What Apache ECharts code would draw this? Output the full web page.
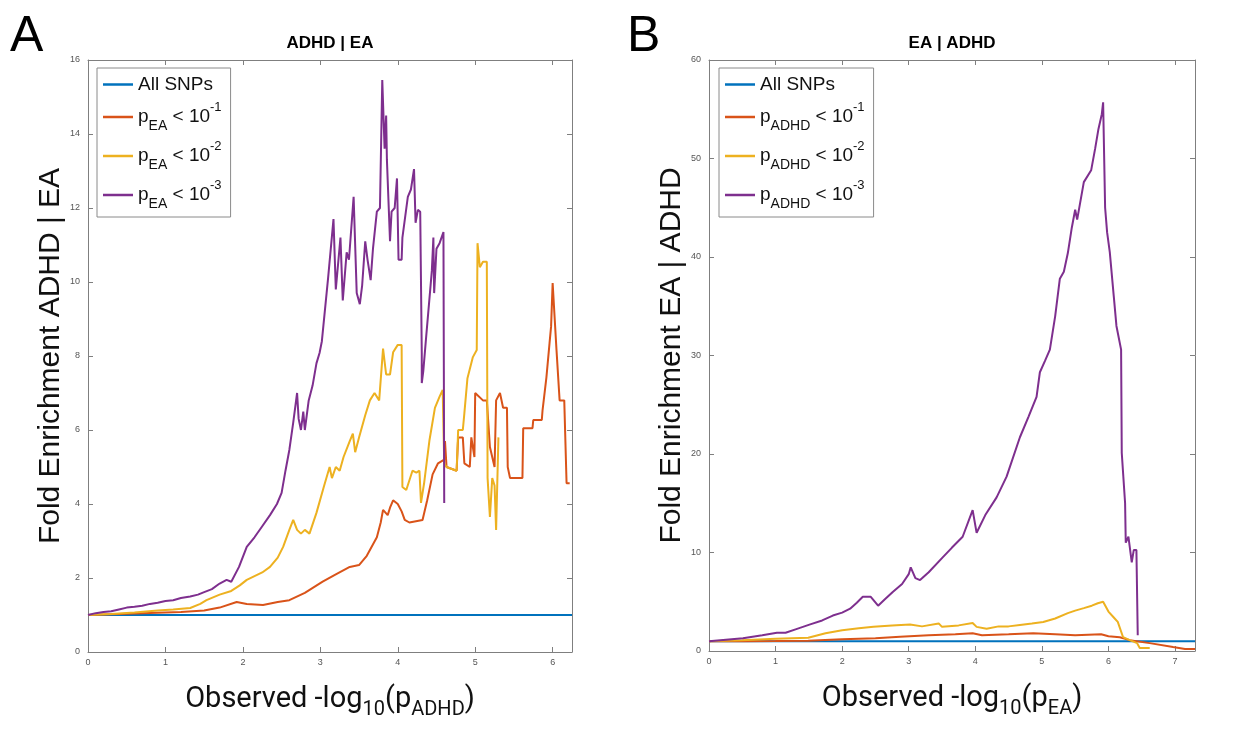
<!DOCTYPE html>
<html>
<head>
<meta charset="utf-8">
<script src="https://cdn.jsdelivr.net/npm/echarts@6/dist/echarts.min.js"></script>
<style>
  html, body { margin: 0; padding: 0; background: #ffffff; }
  #chart { width: 1250px; height: 736px; }
</style>
</head>
<body>
<div id="chart"></div>
<script>
// ---------- Panel A: fold enrichment of ADHD conditional on EA ----------
const adhdAllSnps = [[0, 1], [6.25, 1]];
const adhdEa1 = [[0,1],[0.3,1.02],[0.6,1.04],[0.9,1.06],[1.2,1.08],[1.5,1.12],[1.7,1.2],[1.92,1.35],[2.05,1.3],[2.26,1.27],[2.45,1.35],[2.6,1.4],[2.8,1.6],[3.03,1.9],[3.2,2.1],[3.38,2.3],[3.5,2.35],[3.6,2.6],[3.73,3.1],[3.78,3.5],[3.81,3.84],[3.87,3.7],[3.9,3.9],[3.94,4.1],[4.0,4.0],[4.05,3.8],[4.09,3.57],[4.15,3.5],[4.32,3.57],[4.38,4.1],[4.45,4.8],[4.52,5.1],[4.6,5.2],[4.61,5.7],[4.63,5.0],[4.76,4.9],[4.78,5.8],[4.84,5.8],[4.86,5.1],[4.93,5.0],[4.95,5.8],[4.99,5.27],[5.0,7.0],[5.1,6.8],[5.15,6.8],[5.19,5.54],[5.25,5.0],[5.27,6.8],[5.32,7.0],[5.36,6.6],[5.41,6.6],[5.42,5.0],[5.45,4.7],[5.61,4.7],[5.62,6.05],[5.74,6.05],[5.75,6.27],[5.86,6.27],[5.87,6.54],[5.92,7.43],[5.96,8.35],[5.98,8.8],[6.0,9.97],[6.05,8.16],[6.09,6.8],[6.15,6.8],[6.18,4.56],[6.22,4.56]];
const adhdEa2 = [[0,1],[0.3,1.03],[0.6,1.07],[0.9,1.12],[1.1,1.15],[1.32,1.19],[1.45,1.3],[1.53,1.4],[1.7,1.55],[1.85,1.65],[1.96,1.8],[2.05,1.95],[2.15,2.05],[2.25,2.15],[2.35,2.3],[2.45,2.55],[2.52,2.84],[2.6,3.3],[2.65,3.57],[2.7,3.3],[2.75,3.2],[2.8,3.3],[2.86,3.2],[2.95,3.76],[3.05,4.5],[3.12,5.0],[3.15,4.7],[3.2,5.0],[3.25,4.9],[3.3,5.27],[3.38,5.7],[3.42,5.9],[3.45,5.4],[3.5,5.8],[3.58,6.4],[3.64,6.8],[3.7,7.0],[3.76,6.8],[3.81,8.2],[3.85,7.5],[3.9,7.5],[3.94,8.1],[4.0,8.3],[4.05,8.3],[4.06,4.46],[4.11,4.38],[4.19,4.9],[4.24,4.85],[4.28,4.9],[4.3,4.03],[4.34,4.56],[4.41,5.73],[4.48,6.6],[4.54,6.9],[4.58,7.08],[4.6,5.1],[4.63,5.0],[4.76,4.9],[4.78,6.0],[4.84,6.0],[4.86,6.45],[4.9,7.4],[4.97,7.97],[5.02,8.16],[5.03,11.05],[5.06,10.4],[5.1,10.55],[5.15,10.55],[5.16,4.7],[5.19,3.65],[5.22,4.7],[5.25,4.5],[5.27,3.3],[5.3,5.8]];
const adhdEa3 = [[0,1],[0.1,1.05],[0.2,1.08],[0.3,1.1],[0.4,1.15],[0.5,1.2],[0.6,1.22],[0.7,1.25],[0.8,1.3],[0.9,1.33],[1.0,1.38],[1.1,1.4],[1.2,1.46],[1.32,1.5],[1.42,1.55],[1.5,1.62],[1.6,1.7],[1.7,1.85],[1.79,1.95],[1.85,1.9],[1.95,2.3],[2.05,2.84],[2.15,3.1],[2.25,3.4],[2.35,3.7],[2.44,4.0],[2.5,4.3],[2.55,4.9],[2.6,5.46],[2.65,6.2],[2.7,7.0],[2.72,6.3],[2.75,6.0],[2.78,6.5],[2.8,6.0],[2.85,6.8],[2.9,7.2],[2.95,7.8],[2.99,8.08],[3.02,8.4],[3.1,10.1],[3.17,11.7],[3.2,9.8],[3.26,11.2],[3.29,9.5],[3.34,10.8],[3.37,10.6],[3.43,12.3],[3.47,9.7],[3.51,9.4],[3.54,9.9],[3.58,11.1],[3.61,10.6],[3.65,10.05],[3.68,10.9],[3.73,11.9],[3.77,12.0],[3.8,15.46],[3.83,13.6],[3.85,14.5],[3.86,13.3],[3.9,11.1],[3.92,11.9],[3.96,12.0],[3.99,12.8],[4.01,10.6],[4.05,10.6],[4.06,11.2],[4.13,12.3],[4.17,12.5],[4.21,13.05],[4.23,11.6],[4.26,11.95],[4.29,11.9],[4.31,8.08],[4.31,7.27],[4.33,7.6],[4.37,8.6],[4.44,10.3],[4.46,11.2],[4.47,9.7],[4.5,10.9],[4.54,11.05],[4.59,11.35],[4.6,4.03]];

// ---------- Panel B: fold enrichment of EA conditional on ADHD ----------
const eaAllSnps = [[0, 1], [7.3, 1]];
const eaAdhd1 = [[0,1],[0.5,1.0],[1.0,1.02],[1.49,1.05],[2.0,1.2],[2.5,1.3],[2.87,1.45],[3.3,1.6],[3.7,1.7],[3.96,1.8],[4.1,1.6],[4.5,1.7],[4.87,1.8],[5.2,1.7],[5.5,1.6],[5.89,1.7],[6.0,1.5],[6.17,1.4],[6.32,1.1],[6.62,0.8],[6.97,0.4],[7.15,0.2],[7.3,0.2]];
const eaAdhd2 = [[0,1],[0.5,1.1],[1.0,1.25],[1.49,1.35],[1.5,1.5],[1.75,1.8],[2.0,2.1],[2.25,2.3],[2.47,2.45],[2.75,2.6],[3.02,2.7],[3.2,2.5],[3.45,2.8],[3.5,2.45],[3.75,2.6],[3.96,2.85],[4.02,2.45],[4.17,2.25],[4.35,2.5],[4.5,2.5],[4.67,2.65],[4.85,2.8],[5.02,2.95],[5.2,3.3],[5.39,3.85],[5.5,4.1],[5.63,4.35],[5.75,4.6],[5.84,4.85],[5.92,5.0],[6.0,4.0],[6.08,3.4],[6.14,2.95],[6.22,1.4],[6.32,1.1],[6.43,0.8],[6.47,0.3],[6.62,0.3]];
const eaAdhd3 = [[0,1.0],[0.51,1.3],[0.8,1.6],[1.02,1.85],[1.15,1.85],[1.3,2.2],[1.52,2.7],[1.7,3.1],[1.86,3.6],[2.0,3.9],[2.12,4.3],[2.22,4.9],[2.31,5.5],[2.43,5.5],[2.54,4.6],[2.65,5.3],[2.76,6.0],[2.9,6.8],[3.0,7.8],[3.03,8.5],[3.1,7.4],[3.17,7.2],[3.3,8.0],[3.51,9.5],[3.65,10.5],[3.81,11.6],[3.96,14.3],[4.02,12.0],[4.15,13.8],[4.32,15.6],[4.47,17.7],[4.67,21.7],[4.8,23.8],[4.92,25.8],[4.97,28.3],[5.05,29.5],[5.12,30.6],[5.2,34],[5.27,37.8],[5.33,38.5],[5.39,40.4],[5.45,43],[5.5,44.8],[5.53,43.8],[5.63,47.6],[5.74,48.8],[5.8,51],[5.85,53],[5.9,54.5],[5.92,55.7],[5.95,45],[5.98,42.5],[6.02,40.5],[6.08,36],[6.12,33],[6.19,30.6],[6.2,20.1],[6.25,15.0],[6.26,11.0],[6.3,11.6],[6.35,9.0],[6.38,10.25],[6.42,10.25],[6.44,1.6]];

// Axis ranges
const adhdXMax = 6.25, adhdYMax = 16, adhdYStep = 2;
const eaXMax = 7.3, eaYMax = 60, eaYStep = 10;

// Legend entries: series name -> rich label
const adhdNames = ['All SNPs', 'pEA < 10^-1', 'pEA < 10^-2', 'pEA < 10^-3'];
const adhdLabels = ['{t|All SNPs}', '{t|p}{sub|EA}{t| < 10}{sup|-1}', '{t|p}{sub|EA}{t| < 10}{sup|-2}', '{t|p}{sub|EA}{t| < 10}{sup|-3}'];
const eaNames = ['All SNPs', 'pADHD < 10^-1', 'pADHD < 10^-2', 'pADHD < 10^-3'];
const eaLabels = ['{t|All SNPs}', '{t|p}{sub|ADHD}{t| < 10}{sup|-1}', '{t|p}{sub|ADHD}{t| < 10}{sup|-2}', '{t|p}{sub|ADHD}{t| < 10}{sup|-3}'];

const colors = ['#0072BD', '#D95319', '#EDB120', '#7E2F8E'];
const AXIS = '#7f7f7f';
const SANS = 'Liberation Sans, Arial, sans-serif';

const legendRich = {
  t:   { fontSize: 19, fontFamily: SANS, color: '#111', lineHeight: 32 },
  sub: { fontSize: 14, fontFamily: SANS, color: '#111', lineHeight: 32, verticalAlign: 'bottom' },
  sup: { fontSize: 13, fontFamily: SANS, color: '#111', lineHeight: 32, verticalAlign: 'top' }
};
const nameRich = {
  n: { fontSize: 29, fontFamily: 'Roboto, sans-serif', color: '#111', lineHeight: 40 },
  s: { fontSize: 20, fontFamily: 'Roboto, sans-serif', color: '#111', lineHeight: 40, verticalAlign: 'bottom' }
};

function makeLegend(left, names, labels) {
  return {
    left: left, top: 68, orient: 'vertical',
    data: names, icon: 'rect', itemWidth: 30, itemHeight: 2.5, itemGap: 7,
    padding: [7, 9, 6, 6],
    borderColor: '#8a8a8a', borderWidth: 1, backgroundColor: '#fff',
    selectedMode: false,
    formatter: name => labels[names.indexOf(name)],
    textStyle: { rich: legendRich }
  };
}

function bottomX(grid, max, nameText) {
  return {
    type: 'value', gridIndex: grid, min: 0, max: max, interval: 1,
    axisLine: { show: true, onZero: false, lineStyle: { color: AXIS, width: 1 } },
    axisTick: { show: true, inside: true, length: 5, lineStyle: { color: AXIS } },
    axisLabel: { color: '#555', fontSize: 9, margin: 6, fontFamily: SANS, showMaxLabel: false },
    splitLine: { show: false },
    name: nameText, nameLocation: 'middle', nameGap: 28,
    nameTextStyle: { rich: nameRich, verticalAlign: 'top' }
  };
}
function topX(grid, max) {
  return {
    type: 'value', gridIndex: grid, position: 'top', min: 0, max: max, interval: 1,
    axisLine: { show: true, onZero: false, lineStyle: { color: AXIS, width: 1 } },
    axisTick: { show: true, inside: true, length: 5, lineStyle: { color: AXIS } },
    axisLabel: { show: false }, splitLine: { show: false }
  };
}
function leftY(grid, max, step, nameText) {
  return {
    type: 'value', gridIndex: grid, min: 0, max: max, interval: step,
    axisLine: { show: true, onZero: false, lineStyle: { color: AXIS, width: 1 } },
    axisTick: { show: true, inside: true, length: 5, lineStyle: { color: AXIS } },
    axisLabel: { color: '#555', fontSize: 9, margin: 8, fontFamily: SANS },
    splitLine: { show: false },
    name: nameText, nameLocation: 'middle', nameGap: 17,
    nameTextStyle: { fontSize: 30, fontFamily: SANS, color: '#111' }
  };
}
function rightY(grid, max, step) {
  return {
    type: 'value', gridIndex: grid, position: 'right', min: 0, max: max, interval: step,
    axisLine: { show: true, onZero: false, lineStyle: { color: AXIS, width: 1 } },
    axisTick: { show: true, inside: true, length: 5, lineStyle: { color: AXIS } },
    axisLabel: { show: false }, splitLine: { show: false }
  };
}
function line(name, data, color, xi, yi) {
  return {
    type: 'line', name: name, data: data, xAxisIndex: xi, yAxisIndex: yi,
    symbol: 'none', smooth: false, color: color,
    lineStyle: { color: color, width: 2 }, emphasis: { disabled: true }
  };
}

const chart = echarts.init(document.getElementById('chart'), null, { renderer: 'canvas' });
chart.setOption({
  animation: false,
  backgroundColor: '#ffffff',
  grid: [
    { left: 88, right: 678, top: 60, bottom: 84 },
    { left: 709, right: 55, top: 60, bottom: 85 }
  ],
  xAxis: [
    bottomX(0, adhdXMax, '{n|Observed -log}{s|10}{n|(p}{s|ADHD}{n|)}'),
    bottomX(1, eaXMax, '{n|Observed -log}{s|10}{n|(p}{s|EA}{n|)}'),
    topX(0, adhdXMax),
    topX(1, eaXMax)
  ],
  yAxis: [
    leftY(0, adhdYMax, adhdYStep, 'Fold Enrichment ADHD | EA'),
    leftY(1, eaYMax, eaYStep, 'Fold Enrichment EA | ADHD'),
    rightY(0, adhdYMax, adhdYStep),
    rightY(1, eaYMax, eaYStep)
  ],
  legend: [
    makeLegend(97, adhdNames, adhdLabels),
    makeLegend(719, eaNames, eaLabels)
  ],
  graphic: [
    { type: 'text', x: 10, y: 12, style: { text: 'A', font: '50px ' + SANS, fill: '#000' } },
    { type: 'text', x: 627, y: 12, style: { text: 'B', font: '50px ' + SANS, fill: '#000' } },
    { type: 'text', x: 330, y: 43, style: { text: 'ADHD | EA', font: 'bold 17px ' + SANS, fill: '#000', align: 'center', verticalAlign: 'middle' } },
    { type: 'text', x: 952, y: 43, style: { text: 'EA | ADHD', font: 'bold 17px ' + SANS, fill: '#000', align: 'center', verticalAlign: 'middle' } }
  ],
  series: [
    line(adhdNames[0], adhdAllSnps, colors[0], 0, 0),
    line(adhdNames[1], adhdEa1, colors[1], 0, 0),
    line(adhdNames[2], adhdEa2, colors[2], 0, 0),
    line(adhdNames[3], adhdEa3, colors[3], 0, 0),
    line(eaNames[0], eaAllSnps, colors[0], 1, 1),
    line(eaNames[1], eaAdhd1, colors[1], 1, 1),
    line(eaNames[2], eaAdhd2, colors[2], 1, 1),
    line(eaNames[3], eaAdhd3, colors[3], 1, 1)
  ]
});
</script>
</body>
</html>
